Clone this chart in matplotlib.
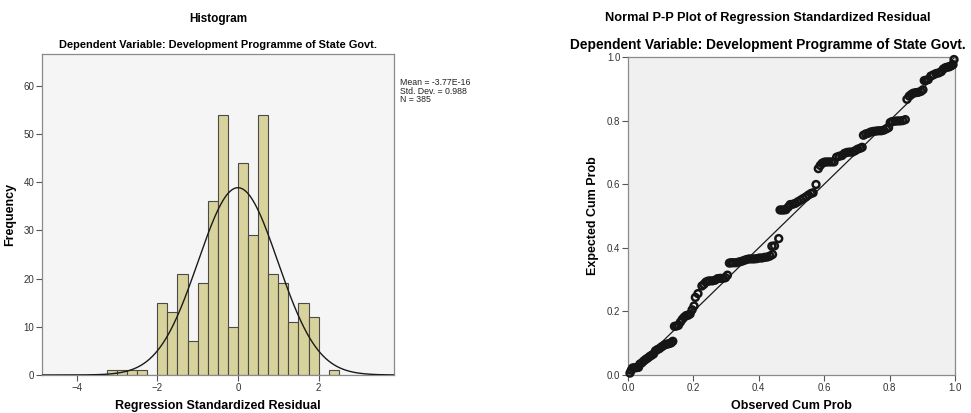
import numpy as np
import matplotlib
matplotlib.use("Agg")
import matplotlib.pyplot as plt

plt.rcParams['font.family'] = ['Liberation Sans', 'DejaVu Sans']

# histogram of the standardized residuals (bin width 0.25)
bin_start = -3.25
bin_width = 0.25
counts = [1, 1, 1, 1, 0, 15, 13, 21, 7, 19, 36, 54, 10, 44, 29, 54, 21, 19, 11, 15, 12, 0, 1]
res_mean = -3.77e-16
res_sd = 0.988
res_n = 385

# P-P plot : observed cum prob / expected cum prob
obs_p = [0.006, 0.010, 0.014, 0.020, 0.026, 0.032, 0.036, 0.042, 0.048, 0.054,
         0.060, 0.066, 0.072, 0.078, 0.084, 0.090, 0.096, 0.102, 0.108, 0.114,
         0.120, 0.126, 0.132, 0.137, 0.142, 0.148, 0.154, 0.160, 0.166, 0.172,
         0.178, 0.184, 0.190, 0.196, 0.202, 0.206, 0.214, 0.226, 0.232, 0.238,
         0.244, 0.250, 0.258, 0.266, 0.274, 0.282, 0.290, 0.298, 0.304, 0.310,
         0.316, 0.322, 0.330, 0.338, 0.346, 0.354, 0.362, 0.370, 0.378, 0.386,
         0.394, 0.402, 0.410, 0.418, 0.426, 0.434, 0.442, 0.440, 0.448, 0.461,
         0.465, 0.471, 0.477, 0.483, 0.490, 0.496, 0.504, 0.512, 0.520, 0.528,
         0.536, 0.544, 0.552, 0.560, 0.566, 0.575, 0.582, 0.588, 0.594, 0.600,
         0.606, 0.614, 0.622, 0.630, 0.638, 0.646, 0.654, 0.662, 0.670, 0.678,
         0.686, 0.694, 0.702, 0.710, 0.716, 0.720, 0.727, 0.734, 0.742, 0.750,
         0.758, 0.766, 0.774, 0.782, 0.790, 0.797, 0.802, 0.808, 0.816, 0.824,
         0.832, 0.840, 0.848, 0.853, 0.860, 0.866, 0.872, 0.880, 0.888, 0.896,
         0.902, 0.906, 0.912, 0.918, 0.926, 0.934, 0.942, 0.950, 0.958, 0.964,
         0.970, 0.976, 0.982, 0.988, 0.994, 0.997]
exp_p = [0.006, 0.015, 0.022, 0.023, 0.023, 0.024, 0.034, 0.038, 0.044, 0.049,
         0.053, 0.058, 0.062, 0.066, 0.076, 0.080, 0.083, 0.088, 0.092, 0.096,
         0.097, 0.099, 0.101, 0.106, 0.153, 0.154, 0.156, 0.166, 0.175, 0.182,
         0.187, 0.188, 0.192, 0.205, 0.217, 0.244, 0.256, 0.280, 0.285, 0.292,
         0.295, 0.296, 0.296, 0.298, 0.303, 0.304, 0.304, 0.306, 0.314, 0.352,
         0.353, 0.353, 0.353, 0.355, 0.357, 0.360, 0.363, 0.365, 0.365, 0.365,
         0.366, 0.368, 0.368, 0.370, 0.371, 0.374, 0.379, 0.405, 0.406, 0.429,
         0.519, 0.519, 0.519, 0.520, 0.528, 0.536, 0.537, 0.540, 0.545, 0.550,
         0.555, 0.560, 0.566, 0.571, 0.573, 0.599, 0.649, 0.659, 0.666, 0.669,
         0.670, 0.670, 0.670, 0.670, 0.685, 0.688, 0.690, 0.697, 0.700, 0.701,
         0.701, 0.705, 0.710, 0.713, 0.716, 0.754, 0.758, 0.760, 0.764, 0.766,
         0.767, 0.768, 0.768, 0.770, 0.774, 0.778, 0.794, 0.797, 0.798, 0.799,
         0.799, 0.800, 0.803, 0.867, 0.877, 0.882, 0.886, 0.888, 0.889, 0.892,
         0.897, 0.926, 0.927, 0.929, 0.940, 0.944, 0.948, 0.950, 0.954, 0.962,
         0.966, 0.968, 0.969, 0.972, 0.976, 0.992]

fig = plt.figure(figsize=(9.71, 4.13), dpi=100)

tick_col = '#333333'
spine_col = '#8a8a8a'

def style_axes(ax, bg):
    ax.set_facecolor(bg)
    for s in ax.spines.values():
        s.set_color(spine_col)
        s.set_linewidth(0.9)
    ax.tick_params(direction='out', length=4, width=0.8, colors='#555555',
                   labelsize=7, labelcolor=tick_col, pad=1.5)

# ---- histogram ----
ax1 = fig.add_axes([42 / 971, 1 - 375 / 413, 352 / 971, 321 / 413])
style_axes(ax1, '#f5f5f5')
lefts = bin_start + bin_width * np.arange(len(counts))
ax1.bar(lefts, counts, width=bin_width, align='edge', color='#d8d29c',
        edgecolor='#4a4a4a', linewidth=0.8, zorder=2)
xs = np.linspace(-4.9, 3.9, 400)
curve = res_n * bin_width / (res_sd * np.sqrt(2 * np.pi)) * np.exp(-0.5 * ((xs - res_mean) / res_sd) ** 2)
ax1.plot(xs, curve, color='#1a1a1a', lw=1.0, zorder=3)
ax1.set_xlim(-4.86, 3.87)
ax1.set_ylim(0, 66.6)
ax1.set_xticks([-4, -2, 0, 2])
ax1.set_yticks([0, 10, 20, 30, 40, 50, 60])
ax1.set_xlabel('Regression Standardized Residual', fontsize=9, fontweight='bold', labelpad=5)
ax1.set_ylabel('Frequency', fontsize=9, fontweight='bold', labelpad=5)
fig.text(400 / 971, 1 - 78 / 413,
         'Mean = -3.77E-16\nStd. Dev. = 0.988\nN = 385',
         fontsize=6.3, color='#222222', va='top', ha='left', linespacing=0.95)
fig.text(218 / 971, 1 - 19 / 413, 'Histogram', fontsize=8.5, fontweight='bold',
         ha='center', va='center')
fig.text(218 / 971, 1 - 45 / 413, 'Dependent Variable: Development Programme of State Govt.',
         fontsize=7.9, fontweight='bold', ha='center', va='center')

# ---- P-P plot ----
ax2 = fig.add_axes([628 / 971, 1 - 375 / 413, 327 / 971, 318 / 413])
style_axes(ax2, '#f0f0f0')
ax2.plot([0, 1], [0, 1], color='#1a1a1a', lw=0.9, zorder=2)
ax2.scatter(obs_p, exp_p, s=24, facecolors='none', edgecolors='#151515',
            linewidths=1.8, zorder=3, clip_on=False)
ax2.set_xlim(0, 1)
ax2.set_ylim(0, 1)
ax2.set_xticks([0, 0.2, 0.4, 0.6, 0.8, 1.0])
ax2.set_yticks([0, 0.2, 0.4, 0.6, 0.8, 1.0])
ax2.xaxis.set_major_formatter(matplotlib.ticker.FormatStrFormatter('%.1f'))
ax2.yaxis.set_major_formatter(matplotlib.ticker.FormatStrFormatter('%.1f'))
ax2.set_xlabel('Observed Cum Prob', fontsize=9, fontweight='bold', labelpad=5)
ax2.set_ylabel('Expected Cum Prob', fontsize=9, fontweight='bold', labelpad=6)
fig.text(768 / 971, 1 - 18 / 413, 'Normal P-P Plot of Regression Standardized Residual',
         fontsize=9.2, fontweight='bold', ha='center', va='center')
fig.text(768 / 971, 1 - 45 / 413, 'Dependent Variable: Development Programme of State Govt.',
         fontsize=9.9, fontweight='bold', ha='center', va='center')

fig.savefig('out.png', dpi=100, facecolor='white')
